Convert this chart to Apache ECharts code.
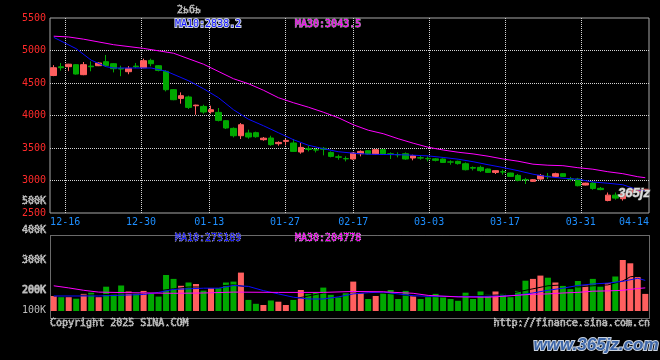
<!DOCTYPE html>
<html><head><meta charset="utf-8">
<script src="https://cdn.jsdelivr.net/npm/echarts@6/dist/echarts.min.js"></script>
<style>html,body{margin:0;padding:0;background:#000;}#c{width:660px;height:360px;}</style>
</head><body><div id="c"></div>
<script>
// ---------- data ----------
const dates = ['12-12','12-13','12-16','12-17','12-18','12-19','12-20','12-23','12-24','12-25','12-26','12-27','12-30','12-31',
 '01-02','01-03','01-06','01-07','01-08','01-09','01-10','01-13','01-14','01-15','01-16','01-17','01-20','01-21','01-22','01-23','01-24','01-27',
 '02-05','02-06','02-07','02-10','02-11','02-12','02-13','02-14','02-17','02-18','02-19','02-20','02-21','02-24','02-25','02-26','02-27','02-28',
 '03-03','03-04','03-05','03-06','03-07','03-10','03-11','03-12','03-13','03-14','03-17','03-18','03-19','03-20','03-21','03-24','03-25','03-26','03-27','03-28','03-31',
 '04-01','04-02','04-03','04-07','04-08','04-09','04-10','04-11','04-14'];
const openP  = [4615,4750,4751,4782,4628,4760,4766,4828,4797,4725,4674,4760,4735,4848,4766,4679,4397,4263,4285,4150,
 4140,4058,4048,3920,3802,3689,3731,3736,3628,3654,3566,3602,3577,3438,3489,3474,3495,3432,3364,3338,
 3331,3412,3458,3408,3474,3412,3400,3412,3346,3350,3340,3333,3330,3286,3295,3258,3200,3202,3177,3125,
 3135,3115,3078,3015,2987,3023,3065,3063,3105,3025,3023,2930,2960,2880,2692,2775,2720,2810,2820,2850];
const closeP = [4735,4735,4789,4638,4782,4750,4808,4766,4720,4715,4725,4750,4843,4797,4694,4397,4243,4305,4125,4160,
 4054,4089,3925,3808,3689,3858,3669,3674,3651,3551,3586,3617,3448,3509,3478,3468,3480,3371,3358,3333,
 3423,3448,3408,3474,3408,3402,3395,3331,3382,3345,3333,3310,3278,3283,3260,3166,3190,3151,3125,3151,
 3130,3063,3002,3010,3012,3078,3060,3105,3063,3020,2920,2960,2878,2860,2775,2729,2800,2860,2860,2865];
const lowP   = [4605,4690,4682,4630,4620,4680,4760,4758,4663,4605,4635,4730,4728,4756,4679,4371,4235,4182,4100,4012,
 4028,4028,3909,3792,3663,3638,3643,3658,3612,3535,3535,3540,3443,3412,3448,3432,3387,3356,3320,3294,
 3320,3371,3400,3400,3400,3331,3356,3320,3310,3320,3294,3294,3270,3243,3245,3155,3155,3130,3117,3100,
 3090,3058,2987,2946,2980,3012,3023,3060,3058,2987,2910,2925,2858,2850,2680,2705,2690,2800,2810,2835];
const highP  = [4775,4808,4795,4790,4823,4833,4820,4931,4805,4766,4760,4808,4874,4874,4774,4694,4405,4356,4305,4166,
 4166,4151,4115,3928,3817,3884,3782,3751,3669,3689,3602,3638,3638,3577,3535,3500,3515,3448,3397,3371,
 3432,3464,3464,3480,3480,3432,3432,3432,3397,3382,3371,3345,3340,3310,3305,3278,3217,3228,3185,3160,
 3166,3120,3100,3040,3020,3100,3115,3120,3110,3055,3040,2965,2977,2900,2815,2815,2820,2870,2870,2870];
// volume in K
const volume = [183,179,179,174,190,194,179,214,190,218,198,194,200,190,181,253,240,217,228,223,
 201,209,209,228,231,261,170,157,153,168,164,153,170,203,190,194,211,187,178,192,
 231,192,173,183,192,203,173,200,183,173,179,190,179,173,167,194,173,198,187,198,
 190,179,200,234,240,251,244,228,217,206,233,218,240,214,226,248,303,292,246,190];
// moving-average lines: [index, value]
const ma10Price = [[0,5202],[3,5028],[5,4851],[7,4751],[8,4731],[13,4731],[15,4682],[18,4535],[20,4412],[22,4274],[24,4089],[26,3943],[28,3843],[30,3735],[32,3628],[34,3543],[36,3489],[38,3443],[40,3420],[42,3405],[44,3400],[46,3397],[48,3389],[50,3378],[52,3355],[54,3328],[56,3289],[58,3243],[60,3200],[62,3151],[64,3097],[66,3058],[68,3035],[70,3020],[72,2977],[74,2958],[76,2935],[78,2858],[79,2838]];
const ma30Price = [[0,5220],[2,5208],[4,5174],[8,5089],[12,5032],[16,4958],[20,4789],[24,4566],[26,4489],[28,4389],[30,4274],[32,4197],[34,4128],[36,4051],[38,3966],[40,3858],[42,3774],[44,3720],[46,3643],[48,3574],[50,3512],[52,3469],[54,3435],[56,3409],[58,3374],[60,3331],[62,3297],[64,3251],[66,3235],[68,3228],[70,3197],[72,3174],[74,3135],[76,3105],[78,3058],[79,3043]];
const ma5Vol  = [[0,183],[6,187],[12,193],[16,207],[18,213],[20,213],[24,220],[26,213],[28,193],[30,180],[32,173],[34,183],[36,193],[40,197],[44,193],[48,183],[52,180],[56,183],[60,187],[62,197],[64,207],[66,217],[68,220],[70,213],[72,217],[74,220],[76,233],[77,247],[78,250],[79,243]];
const ma10Vol = [[0,183],[6,183],[12,188],[14,195],[16,205],[20,209],[22,209],[24,218],[26,215],[28,201],[30,190],[32,179],[34,173],[36,173],[38,180],[40,190],[42,194],[44,196],[46,190],[48,184],[50,182],[52,182],[54,181],[56,181],[58,182],[60,183],[62,186],[64,193],[66,202],[68,209],[70,218],[72,223],[74,226],[76,232],[78,242],[79,235]];
const ma30Vol = [[0,217],[2,210],[4,202],[6,196],[10,194],[16,192],[20,193],[24,196],[30,195],[36,195],[40,198],[44,197],[48,192],[50,185],[54,180],[58,179],[60,182],[64,189],[66,190],[68,193],[70,195],[72,199],[74,200],[76,202],[78,208],[79,210]];
const dateLabelIdx = [2,12,21,31,40,50,60,70,79];
const gridLineIdx  = [2,12,21,31,40,50,60,70];
const priceAxis = {min:2500, max:5500, step:500};
const volTickLabels = ['500K','400K','300K','200K','100K'];
const titleText = '2ьбь';
const priceLegend = ['MA10:2838.2','MA30:3043.5'];
const volLegend = ['MA10:275189','MA30:204778'];
const footLeft = 'Copyright 2025 SINA.COM';
const footRight = 'http://finance.sina.com.cn';
const watermark = 'www.365jz.com';

// ---------- layout / style ----------
const volTickY = [201, 230.5, 260.5, 290.5, 310];
const mainBox = {x:50, y:18, w:599, h:195};
const volBox = {x:50, y:235, w:599, h:83};
const volGridY = [255, 275, 295];
const UP = '#ff5f5f', DOWN = '#00a800';
const MONO = '"DejaVu Sans Mono", "Liberation Mono", monospace';
const dotted = {type:[1,1], color:'#d4d4d4', width:1};
const GRAY = '#bdbdbd';

const candleData = dates.map((d,i)=>[openP[i], closeP[i], lowP[i], highP[i]]);
const volData = volume.map((v,i)=>({value:v, itemStyle:{color: closeP[i] >= openP[i] ? UP : DOWN}}));

const chart = echarts.init(document.getElementById('c'), null, {renderer:'canvas'});
const txt = (x,y,text,fill,align,font)=>({type:'text', x:x, y:y, silent:true, z:100,
  style:{text:text, fill:fill, font:font || ('10px ' + MONO), textAlign:align||'left', align:align||'left', textVerticalAlign:'middle', verticalAlign:'middle'}});

const graphics = [
  {type:'rect', silent:true, z:1, shape:{x:volBox.x+0.5, y:volBox.y+0.5, width:volBox.w, height:volBox.h}, style:{fill:null, stroke:'#a8a8a8', lineWidth:1}},
  txt(177, 10, titleText, GRAY),
  txt(175, 24, priceLegend[0], '#1414ff'),
  txt(295, 24, priceLegend[1], '#ff00ff'),
  txt(175, 238, volLegend[0], '#1414ff'),
  txt(295, 238, volLegend[1], '#ff00ff'),
  txt(50, 323, footLeft, GRAY),
  txt(650, 323, footRight, GRAY, 'right'),
];
volTickLabels.forEach((t,k)=>graphics.push(txt(46, volTickY[k], t, GRAY, 'right')));
graphics.push({type:'text', x:596, y:345, silent:true, z:100, style:{text:watermark, fill:'#3d66a8', stroke:'#c9d2de', lineWidth:2,
  font:'italic bold 17px "Liberation Sans", Arial, sans-serif', textAlign:'center', align:'center', textVerticalAlign:'middle', verticalAlign:'middle'}});
graphics.push({type:'text', x:634, y:193, silent:true, z:100, style:{text:'365jz', fill:'#dcdcdc', stroke:'#8a8a8a', lineWidth:1,
  font:'italic bold 13px "Liberation Sans", Arial, sans-serif', textAlign:'center', align:'center', textVerticalAlign:'middle', verticalAlign:'middle'}});

const option = {
  backgroundColor:'#000',
  animation:false,
  grid:[
    {left:mainBox.x, top:mainBox.y, width:mainBox.w, height:mainBox.h, show:true, borderColor:'#a8a8a8', borderWidth:1, backgroundColor:'transparent'},
    {left:volBox.x, top:volBox.y, width:volBox.w, height:76, show:false}
  ],
  xAxis:[
    {type:'category', gridIndex:0, data:dates, boundaryGap:true, show:false, position:'top'},
    {type:'category', gridIndex:0, data:dates, boundaryGap:false, position:'bottom',
      axisLine:{show:false}, axisTick:{show:false},
      axisLabel:{interval:(i)=>dateLabelIdx.includes(i), color:'#1e8fff', fontFamily:MONO, fontSize:10, margin:4,
        showMaxLabel:true, alignMaxLabel:'right'},
      splitLine:{show:true, interval:(i)=>gridLineIdx.includes(i), lineStyle:dotted}},
    {type:'category', gridIndex:1, data:dates, boundaryGap:true, show:false}
  ],
  yAxis:[
    {type:'value', gridIndex:0, min:priceAxis.min, max:priceAxis.max, interval:priceAxis.step,
      axisLine:{show:false}, axisTick:{show:false},
      axisLabel:{color:'#ff2a2a', fontFamily:MONO, fontSize:10, margin:4, padding:[0,0,3,0], formatter:(v)=>String(v)},
      splitLine:{show:true, showMinLine:false, showMaxLine:false, lineStyle:dotted}},
    {type:'value', gridIndex:1, min:133, max:386.3, show:false}
  ],
  series:[
    {type:'candlestick', xAxisIndex:0, yAxisIndex:0, data:candleData, barWidth:6,
      itemStyle:{color:UP, color0:DOWN, borderColor:UP, borderColor0:DOWN, borderWidth:1}},
    {type:'line', xAxisIndex:0, yAxisIndex:0, data:ma10Price, symbol:'none', silent:true,
      lineStyle:{color:'#0a0aff', width:1}},
    {type:'line', xAxisIndex:0, yAxisIndex:0, data:ma30Price, symbol:'none', silent:true,
      lineStyle:{color:'#ff00ff', width:1}},
    {type:'bar', xAxisIndex:2, yAxisIndex:1, data:volData, barWidth:6},
    {type:'line', xAxisIndex:2, yAxisIndex:1, data:ma5Vol, symbol:'none', silent:true, lineStyle:{color:'#000', width:1}},
    {type:'line', xAxisIndex:2, yAxisIndex:1, data:ma10Vol, symbol:'none', silent:true, lineStyle:{color:'#0a0aff', width:1}},
    {type:'line', xAxisIndex:2, yAxisIndex:1, data:ma30Vol, symbol:'none', silent:true, lineStyle:{color:'#ff00ff', width:1}}
  ],
  graphic: graphics
};
chart.setOption(option);

// volume-panel dotted grid lines, x taken from the date axis of the price panel
function dateX(i) {
  let px = null;
  try { px = chart.convertToPixel({xAxisIndex:1}, i); } catch (e) { px = null; }
  if (Array.isArray(px)) px = px[0];
  if (px == null || !isFinite(px)) {
    // fallback: same point spacing as a boundaryGap:false category axis
    px = mainBox.x + mainBox.w * i / (dates.length - 1);
  }
  return px;
}
const gridEls = [];
gridLineIdx.forEach((i)=>{
  const x = Math.round(dateX(i)) + 0.5;
  gridEls.push({type:'line', silent:true, z:1, shape:{x1:x, y1:volBox.y, x2:x, y2:volBox.y+volBox.h},
    style:{stroke:'#d4d4d4', fill:null, lineWidth:1, lineDash:[1,1]}});
});
volGridY.forEach((y)=>{
  gridEls.push({type:'line', silent:true, z:1, shape:{x1:volBox.x, y1:y+0.5, x2:volBox.x+volBox.w, y2:y+0.5},
    style:{stroke:'#d4d4d4', fill:null, lineWidth:1, lineDash:[1,1]}});
});
chart.setOption({graphic: gridEls.concat(graphics)});
</script>
</body></html>
